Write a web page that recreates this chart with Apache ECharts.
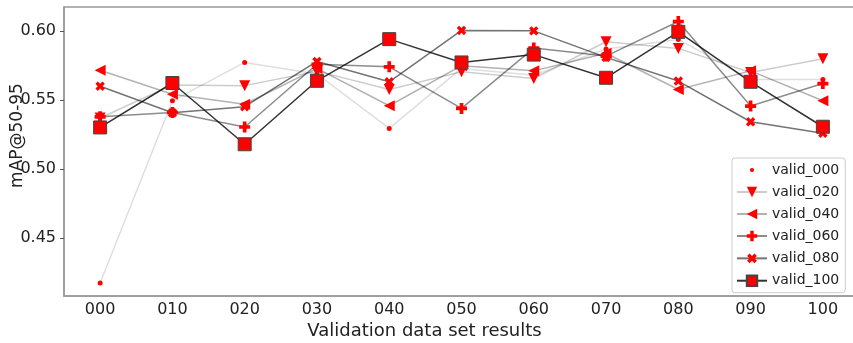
<!DOCTYPE html>
<html>
<head>
<meta charset="utf-8">
<script src="https://cdn.jsdelivr.net/npm/echarts@6/dist/echarts.min.js"></script>
<style>html,body{margin:0;padding:0;background:#fff}#c{width:853px;height:343px}</style>
</head>
<body>
<div id="c"></div>
<script>
const categories = ['000','010','020','030','040','050','060','070','080','090','100'];
const yTicks = [0.45, 0.50, 0.55, 0.60];
const valid_000 = [0.4174, 0.5495, 0.5773, 0.569, 0.5295, 0.573, 0.568, 0.587, 0.594, 0.565, 0.565];
const valid_020 = [0.537, 0.561, 0.5605, 0.571, 0.5577, 0.5705, 0.5657, 0.5923, 0.5875, 0.570, 0.580];
const valid_040 = [0.5717, 0.5543, 0.547, 0.573, 0.5459, 0.575, 0.5712, 0.584, 0.5577, 0.5712, 0.5495];
const valid_060 = [0.5379, 0.541, 0.5305, 0.576, 0.5741, 0.544, 0.5877, 0.5819, 0.607, 0.5457, 0.562];
const valid_080 = [0.5601, 0.5408, 0.5452, 0.578, 0.5633, 0.6005, 0.6002, 0.581, 0.5638, 0.5343, 0.526];
const valid_100 = [0.5302, 0.5624, 0.518, 0.564, 0.5942, 0.5773, 0.583, 0.5662, 0.5995, 0.5633, 0.5307];

const PLUS = 'path://M-1,-3H1V-1H3V1H1V3H-1V1H-3V-1H-1Z';
const DOT_LEGEND = 'path://M-5,-5L-5,-5M5,5L5,5M-1.6,0A1.6,1.6 0 1 1 1.6,0A1.6,1.6 0 1 1 -1.6,0Z';
const font = 'DejaVu Sans';

function mk(name, data, lineColor, symbol, size, rotate, border) {
  return {
    name: name, type: 'line', data: data,
    symbol: symbol, symbolSize: size, symbolRotate: rotate,
    lineStyle: { color: lineColor, width: 1.5 },
    itemStyle: { color: '#ff0000', borderColor: border || '#ff0000', borderWidth: border ? 1 : 0 },
    emphasis: { disabled: true },
    animation: false
  };
}

const chart = echarts.init(document.getElementById('c'), null, { renderer: 'canvas' });
chart.setOption({
  animation: false,
  textStyle: { fontFamily: font },
  grid: { left: 64, right: -6, top: 7, bottom: 47, outerBoundsMode: 'none', containLabel: false, show: true, borderColor: '#999', borderWidth: 1.5, backgroundColor: '#fff' },
  xAxis: {
    type: 'category', data: categories, boundaryGap: true,
    name: 'Validation data set results', nameLocation: 'middle', nameGap: 26, nameMoveOverlap: false,
    nameTextStyle: { fontSize: 18, color: '#222', fontFamily: font, padding: [0, 74, 0, 0] },
    axisLine: { lineStyle: { color: '#999', width: 1.5 } },
    axisTick: { alignWithLabel: true, length: 4, lineStyle: { color: '#555' } },
    axisLabel: { fontSize: 16, color: '#222', margin: 6, fontFamily: font },
    splitLine: { show: false }
  },
  yAxis: {
    type: 'value', min: 0.408, max: 0.6175,
    name: 'mAP@50-95', nameLocation: 'middle', nameGap: 38, nameRotate: 90, nameMoveOverlap: false,
    nameTextStyle: { fontSize: 17, color: '#222', fontFamily: font, padding: [0, 0, 0, 32] },
    axisLine: { show: true, lineStyle: { color: '#999', width: 1.5 } },
    axisTick: { show: true, length: 4, customValues: yTicks, lineStyle: { color: '#555' } },
    axisLabel: { fontSize: 16, color: '#222', margin: 8, fontFamily: font, customValues: yTicks, formatter: v => v.toFixed(2) },
    splitLine: { show: false }
  },
  legend: {
    orient: 'vertical', left: 732, top: 158,
    itemWidth: 30, itemHeight: 13, itemGap: 8,
    backgroundColor: '#fff', borderColor: '#ccc', borderWidth: 1, borderRadius: 3,
    padding: [5, 6, 5, 4],
    textStyle: { fontSize: 14, color: '#222', fontFamily: font },
    data: [{ name: 'valid_000', icon: DOT_LEGEND }, 'valid_020', 'valid_040', 'valid_060', 'valid_080', 'valid_100']
  },
  series: [
    mk('valid_000', valid_000, 'rgba(0,0,0,0.13)', 'circle', 5, 0),
    mk('valid_020', valid_020, 'rgba(0,0,0,0.2)', 'triangle', 11, 180),
    mk('valid_040', valid_040, 'rgba(0,0,0,0.3)', 'triangle', 11, 90),
    mk('valid_060', valid_060, 'rgba(0,0,0,0.45)', PLUS, 11, 0),
    mk('valid_080', valid_080, 'rgba(0,0,0,0.55)', PLUS, 10, 45),
    mk('valid_100', valid_100, 'rgba(0,0,0,0.8)', 'rect', 13, 0, '#444')
  ]
});
</script>
</body>
</html>
